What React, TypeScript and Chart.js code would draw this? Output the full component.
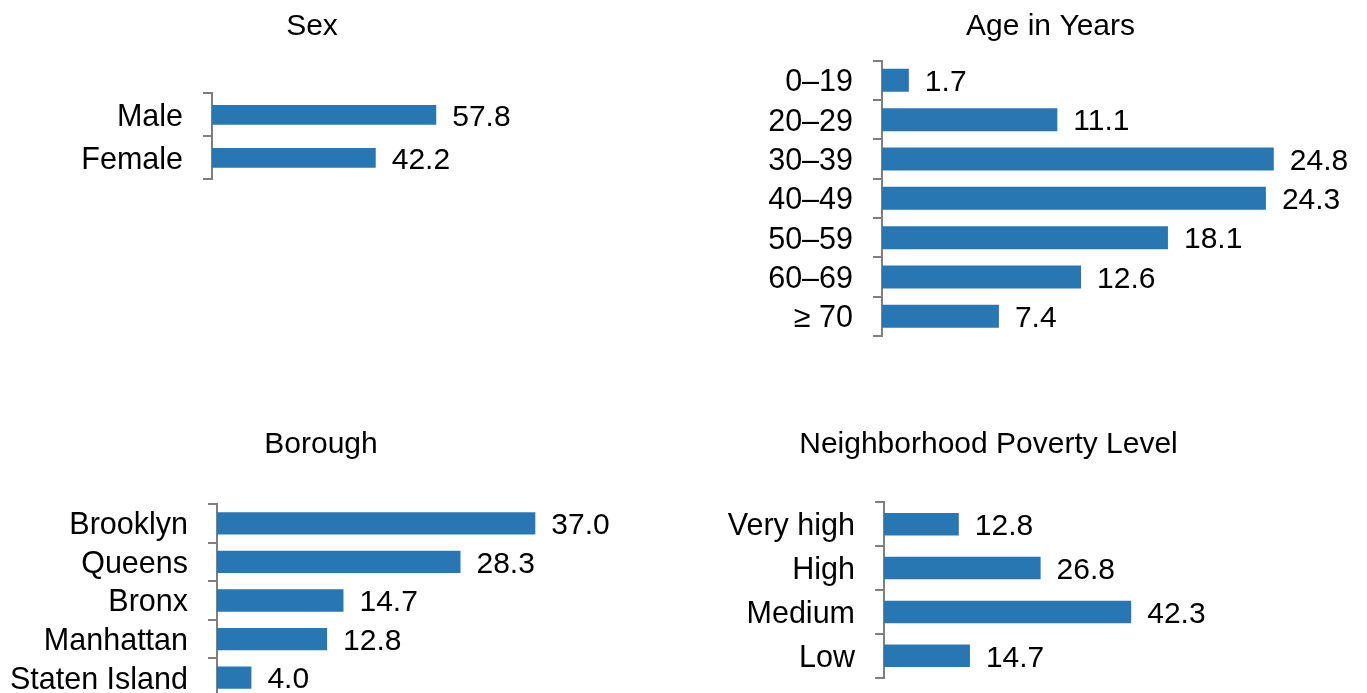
import React, { useEffect, useRef } from 'react';
import { Chart, registerables } from 'chart.js';

Chart.register(...registerables);

const FONT = "'Liberation Sans', Arial, sans-serif";
const BAR_COLOR = '#2876b2';
const AXIS_COLOR = '#7f7f7f';

const sexLabels = ['Male', 'Female'];
const sexValues = [57.8, 42.2];

const ageLabels = ['0–19', '20–29', '30–39', '40–49', '50–59', '60–69', '≥ 70'];
const ageValues = [1.7, 11.1, 24.8, 24.3, 18.1, 12.6, 7.4];

const boroughLabels = ['Brooklyn', 'Queens', 'Bronx', 'Manhattan', 'Staten Island'];
const boroughValues = [37.0, 28.3, 14.7, 12.8, 4.0];

const povertyLabels = ['Very high', 'High', 'Medium', 'Low'];
const povertyValues = [12.8, 26.8, 42.3, 14.7];

const valueLabelPlugin = {
  id: 'valueLabels',
  afterDatasetsDraw(chart: any) {
    const ctx = chart.ctx;
    ctx.save();
    ctx.font = `30px ${FONT}`;
    ctx.fillStyle = '#000';
    ctx.textAlign = 'left';
    ctx.textBaseline = 'middle';
    chart.data.datasets.forEach((ds: any, di: number) => {
      const meta = chart.getDatasetMeta(di);
      meta.data.forEach((bar: any, i: number) => {
        const v = ds.data[i] as number;
        ctx.fillText(v.toFixed(1), bar.x + 16, bar.y + 2.5);
      });
    });
    ctx.restore();
  },
};

type PanelProps = {
  title: string;
  labels: string[];
  values: number[];
  left: number;
  top: number;
  width: number;
  height: number;
  axisWidth: number;
  xMax: number;
  barPct: number;
  titlePadTop: number;
  titlePadBottom: number;
  padBottom: number;
};

function Panel(p: PanelProps) {
  const ref = useRef<HTMLCanvasElement>(null);
  useEffect(() => {
    const chart = new Chart(ref.current as HTMLCanvasElement, {
      type: 'bar',
      data: {
        labels: p.labels,
        datasets: [
          {
            data: p.values,
            backgroundColor: BAR_COLOR,
            barPercentage: p.barPct,
            categoryPercentage: 1,
          },
        ],
      },
      options: {
        indexAxis: 'y',
        responsive: false,
        animation: false,
        layout: { padding: { top: 0, left: 0, right: 0, bottom: p.padBottom } },
        plugins: {
          legend: { display: false },
          tooltip: { enabled: false },
          title: {
            display: true,
            text: p.title,
            color: '#000',
            font: { family: FONT, size: 30, weight: 'normal', lineHeight: 1.2 },
            padding: { top: p.titlePadTop, bottom: p.titlePadBottom },
          },
        },
        scales: {
          x: { display: false, min: 0, max: p.xMax },
          y: {
            afterFit: (s: any) => {
              s.width = p.axisWidth;
            },
            border: { display: true, color: AXIS_COLOR, width: 2 },
            grid: {
              drawOnChartArea: false,
              drawTicks: true,
              tickLength: 9,
              color: AXIS_COLOR,
              lineWidth: 2,
              offset: true,
            },
            ticks: {
              color: '#000',
              padding: 20,
              autoSkip: false,
              labelOffset: 2.5,
              font: { family: FONT, size: 30.5 },
            },
          },
        },
      } as any,
      plugins: [valueLabelPlugin],
    });
    return () => chart.destroy();
  }, []);
  return (
    <canvas
      ref={ref}
      width={p.width}
      height={p.height}
      style={{ position: 'absolute', left: p.left, top: p.top, width: p.width, height: p.height }}
    />
  );
}

export default function App() {
  return (
    <div
      style={{
        position: 'fixed',
        left: 0,
        top: 0,
        width: 1367,
        height: 693,
        overflow: 'hidden',
        background: '#fff',
      }}
    >
      <Panel
        title="Sex"
        labels={sexLabels}
        values={sexValues}
        left={0}
        top={0}
        width={624}
        height={225}
        axisWidth={212}
        xMax={106.2}
        barPct={0.46}
        titlePadTop={9}
        titlePadBottom={48.3}
        padBottom={45.7}
      />
      <Panel
        title="Age in Years"
        labels={ageLabels}
        values={ageValues}
        left={734}
        top={0}
        width={633}
        height={382}
        axisWidth={148}
        xMax={30.7}
        barPct={0.585}
        titlePadTop={9}
        titlePadBottom={15.7}
        padBottom={46}
      />
      <Panel
        title="Borough"
        labels={boroughLabels}
        values={boroughValues}
        left={0}
        top={400}
        width={642}
        height={345}
        axisWidth={217}
        xMax={49.4}
        barPct={0.578}
        titlePadTop={26.6}
        titlePadBottom={41.4}
        padBottom={48}
      />
      <Panel
        title="Neighborhood Poverty Level"
        labels={povertyLabels}
        values={povertyValues}
        left={674}
        top={400}
        width={629}
        height={325}
        axisWidth={210}
        xMax={71.7}
        barPct={0.513}
        titlePadTop={26.6}
        titlePadBottom={39.7}
        padBottom={47.3}
      />
    </div>
  );
}
